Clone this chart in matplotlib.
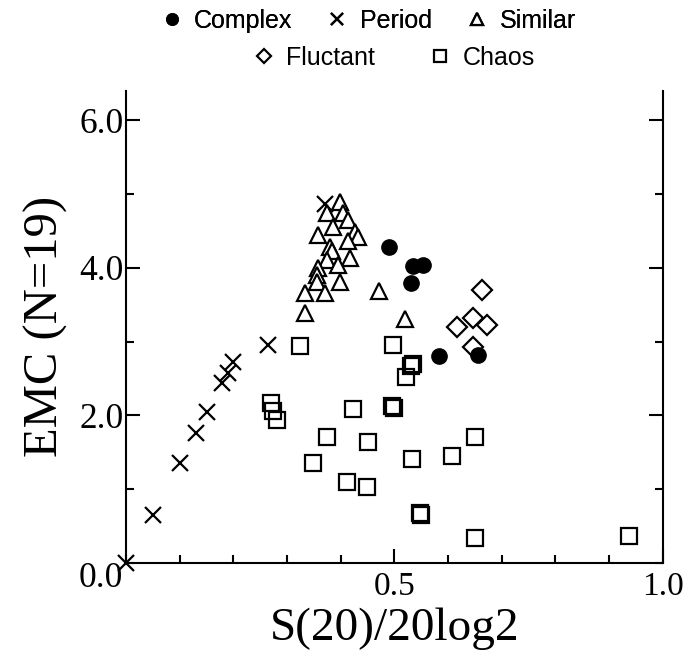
import matplotlib
matplotlib.use("Agg")
import matplotlib.pyplot as plt
from matplotlib.ticker import MultipleLocator

# ---- data ----
complex_x = [0.490, 0.534, 0.553, 0.531, 0.583, 0.655]
complex_y = [4.29, 4.02, 4.04, 3.80, 2.81, 2.82]

period_x = [0.0, 0.050, 0.100, 0.130, 0.151, 0.179, 0.190, 0.199, 0.264, 0.371]
period_y = [0.0, 0.65, 1.36, 1.76, 2.05, 2.44, 2.58, 2.73, 2.96, 4.86]

similar_x = [0.399, 0.374, 0.404, 0.413, 0.385, 0.358, 0.426, 0.432, 0.413, 0.380,
             0.384, 0.417, 0.374, 0.395, 0.358, 0.356, 0.399, 0.356, 0.333, 0.371,
             0.333, 0.471, 0.520]
similar_y = [4.90, 4.74, 4.75, 4.65, 4.56, 4.45, 4.48, 4.42, 4.36, 4.29,
             4.23, 4.14, 4.11, 4.04, 4.00, 3.91, 3.81, 3.81, 3.66, 3.66,
             3.39, 3.68, 3.30]

fluctant_x = [0.663, 0.646, 0.616, 0.672, 0.646]
fluctant_y = [3.70, 3.32, 3.20, 3.22, 2.93]

chaos_x = [0.324, 0.497, 0.531, 0.534, 0.521, 0.270, 0.274, 0.281, 0.423, 0.495,
           0.499, 0.374, 0.451, 0.348, 0.533, 0.412, 0.449, 0.650, 0.607, 0.547,
           0.549, 0.650, 0.937]
chaos_y = [2.94, 2.96, 2.67, 2.70, 2.52, 2.17, 2.06, 1.93, 2.09, 2.12,
           2.10, 1.70, 1.64, 1.36, 1.41, 1.09, 1.03, 1.70, 1.45, 0.68,
           0.65, 0.34, 0.37]

x_ticks = [0.5, 1.0]
x_ticklabels = ['0.5', '1.0']
y_ticks = [2.0, 4.0, 6.0]
y_ticklabels = ['2.0', '4.0', '6.0']
origin_label = '0.0'

x_label = "S(20)/20log2"
y_label = "EMC (N=19)"

# ---- figure ----
fig = plt.figure(figsize=(6.89, 6.59), dpi=100)
ax = fig.add_axes([0.183, 0.146, 0.779, 0.716])

lw = 1.6
h_complex, = ax.plot(complex_x, complex_y, 'o', ms=11, color='black', ls='none', label='Complex')
h_period, = ax.plot(period_x, period_y, 'x', ms=12, mew=lw, color='black', ls='none',
                    label='Period', clip_on=False)
h_similar, = ax.plot(similar_x, similar_y, '^', ms=11.5, mew=lw, mfc='white', mec='black',
                     ls='none', label='Similar')
h_fluct, = ax.plot(fluctant_x, fluctant_y, 'D', ms=10, mew=lw, mfc='none', mec='black',
                   ls='none', label='Fluctant')
h_chaos, = ax.plot(chaos_x, chaos_y, 's', ms=11, mew=lw, mfc='none', mec='black',
                   ls='none', label='Chaos')

ax.set_xlim(0, 1.0)
ax.set_ylim(0, 6.4)
ax.spines['top'].set_visible(False)
for s in ['left', 'right', 'bottom']:
    ax.spines[s].set_linewidth(1.5)

ax.xaxis.set_minor_locator(MultipleLocator(0.1))
ax.yaxis.set_minor_locator(MultipleLocator(1.0))
ax.tick_params(which='both', direction='in', right=True, top=False, width=1.5)
ax.tick_params(which='major', length=10)
ax.tick_params(axis='x', which='major', pad=6)
ax.tick_params(axis='y', which='major', pad=2)
ax.tick_params(which='minor', length=6)

serif = ['Liberation Serif', 'DejaVu Serif']
ax.set_xticks(x_ticks)
ax.set_xticklabels(x_ticklabels, family=serif, fontsize=24)
ax.set_yticks(y_ticks)
ax.set_yticklabels(y_ticklabels, family=serif, fontsize=25.5)
ax.annotate(origin_label, xy=(0, 0), xycoords='data', xytext=(-2, -11),
            textcoords='offset points', ha='right', va='center',
            family=serif, fontsize=25.5)

ax.set_xlabel(x_label, family=serif, fontsize=34, labelpad=4)
ax.set_ylabel(y_label, family=serif, fontsize=35, labelpad=8)

sans = {'family': 'Liberation Sans', 'size': 18}
leg1 = fig.legend(handles=[h_complex, h_period, h_similar], loc='center',
                  bbox_to_anchor=(0.535, 0.968), ncol=3, frameon=False, prop=sans,
                  handlelength=0.8, handletextpad=0.5, columnspacing=1.4, markerscale=0.75,
                  borderpad=0, borderaxespad=0)
leg2 = fig.legend(handles=[h_fluct, h_chaos], loc='center',
                  bbox_to_anchor=(0.572, 0.912), ncol=2, frameon=False, prop=sans,
                  handlelength=0.8, handletextpad=0.5, columnspacing=2.2, markerscale=0.75,
                  borderpad=0, borderaxespad=0)
fig.add_artist(leg1)

fig.savefig('out.png', dpi=100)
